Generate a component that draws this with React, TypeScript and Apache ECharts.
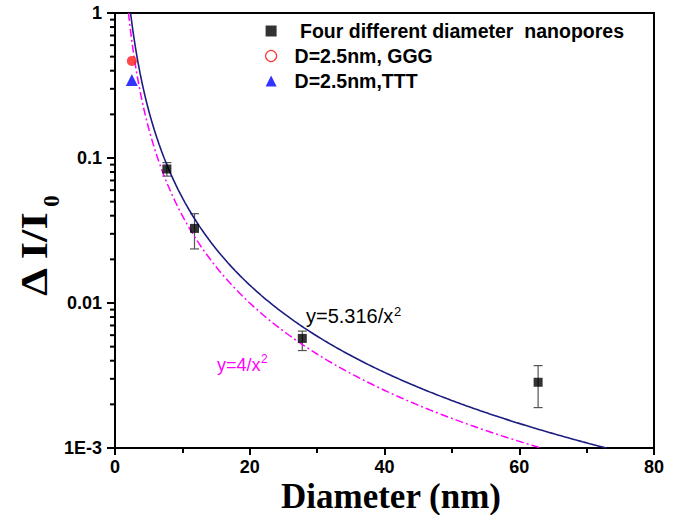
import React, { useEffect, useRef } from "react";
import * as echarts from "echarts";

// Measured nanopores (x = diameter nm, y = ΔI/I0, error bar low/high)
const poreDiameters = [7.7, 11.8, 27.8, 62.8];
const poreValues = [0.084, 0.0327, 0.0057, 0.00284];
const poreErrLow = [0.075, 0.0236, 0.0047, 0.0019];
const poreErrHigh = [0.093, 0.0413, 0.0064, 0.0037];

const gggX = [2.5];
const gggY = [0.467];
const tttX = [2.5];
const tttY = [0.345];

// Fit coefficients written on the chart: y = a / x^2
const fitA = 5.316;
const fitB = 4;

const yMinorTicks = [
  0.002, 0.003, 0.004, 0.005, 0.006, 0.007, 0.008, 0.009,
  0.02, 0.03, 0.04, 0.05, 0.06, 0.07, 0.08, 0.09,
  0.2, 0.3, 0.4, 0.5, 0.6, 0.7, 0.8, 0.9,
];

const S1 = " Four different diameter  nanopores";
const S2 = "D=2.5nm, GGG";
const S3 = "D=2.5nm,TTT";

function fitCurve(a: number): number[][] {
  const pts: number[][] = [];
  const x0 = Math.sqrt(a / 1);
  const x1 = Math.sqrt(a / 0.001);
  const n = 200;
  for (let i = 0; i <= n; i++) {
    const x = x0 + ((x1 - x0) * i) / n;
    pts.push([x, a / (x * x)]);
  }
  return pts;
}

export default function App() {
  const ref = useRef<HTMLDivElement>(null);
  useEffect(() => {
    if (!ref.current) return;
    const chart = echarts.init(ref.current, undefined, { renderer: "svg" });
    const sans = "Arial, 'Liberation Sans', sans-serif";
    const serif = "'Times New Roman', 'Liberation Serif', serif";
    chart.setOption({
      animation: false,
      backgroundColor: "#fff",
      grid: {
        left: 115,
        right: 30,
        top: 13,
        bottom: 67,
        show: true,
        borderColor: "#000",
        borderWidth: 2,
        backgroundColor: "transparent",
      },
      legend: {
        orient: "vertical",
        left: 260,
        top: 16,
        itemWidth: 11,
        itemHeight: 11,
        itemGap: 5,
        textStyle: {
          fontFamily: sans,
          fontWeight: "bold",
          fontSize: 19.5,
          color: "#000",
          lineHeight: 20,
          padding: [0, 0, 0, 13],
        },
        data: [
          { name: S1, icon: "rect" },
          {
            name: S2,
            icon: "circle",
            itemStyle: { color: "#fff", borderColor: "#ff0000", borderWidth: 1.2 },
          },
          { name: S3, icon: "triangle" },
        ],
      },
      xAxis: {
        type: "value",
        min: 0,
        max: 80,
        interval: 20,
        splitLine: { show: false },
        axisLine: { show: true, onZero: false, lineStyle: { color: "#000", width: 2 } },
        axisTick: { show: true, inside: false, length: 7, lineStyle: { color: "#000", width: 2 } },
        minorTick: { show: true, splitNumber: 2, length: 5, lineStyle: { color: "#000", width: 2 } },
        axisLabel: {
          margin: 10,
          fontFamily: sans,
          fontWeight: "bold",
          fontSize: 18,
          color: "#000",
        },
      },
      yAxis: {
        type: "log",
        logBase: 10,
        min: 0.001,
        max: 1,
        splitLine: { show: false },
        axisLine: { show: true, onZero: false, lineStyle: { color: "#000", width: 2 } },
        axisTick: { show: true, inside: false, length: 8, lineStyle: { color: "#000", width: 2 } },
        axisLabel: {
          margin: 13,
          fontFamily: sans,
          fontWeight: "bold",
          fontSize: 18,
          color: "#000",
          formatter: (v: number) => {
            const e = Math.round(Math.log10(v));
            if (e === 0) return "1";
            if (e === -1) return "0.1";
            if (e === -2) return "0.01";
            return "1E-3";
          },
        },
      },
      graphic: [
        {
          type: "text",
          x: 391,
          y: 496,
          style: {
            text: "Diameter (nm)",
            fontFamily: serif,
            fontWeight: "bold",
            fontSize: 35,
            fill: "#000",
            align: "center",
            verticalAlign: "middle",
          },
        },
        {
          type: "text",
          x: 35,
          y: 254,
          rotation: Math.PI / 2,
          scaleX: 1.2,
          style: {
            text: "Δ I/I",
            fontFamily: serif,
            fontWeight: "bold",
            fontSize: 37,
            fill: "#000",
            align: "center",
            verticalAlign: "middle",
          },
        },
        {
          type: "text",
          x: 51,
          y: 201,
          rotation: Math.PI / 2,
          style: {
            text: "0",
            fontFamily: serif,
            fontWeight: "bold",
            fontSize: 23,
            fill: "#000",
            align: "center",
            verticalAlign: "middle",
          },
        },
        {
          type: "text",
          x: 306,
          y: 316,
          style: {
            text: "y=5.316/x",
            fontFamily: sans,
            fontSize: 20,
            fill: "#000",
            align: "left",
            verticalAlign: "middle",
          },
        },
        {
          type: "text",
          x: 394,
          y: 311,
          style: {
            text: "2",
            fontFamily: sans,
            fontSize: 13,
            fill: "#000",
            align: "left",
            verticalAlign: "middle",
          },
        },
        {
          type: "text",
          x: 217,
          y: 364.5,
          style: {
            text: "y=4/x",
            fontFamily: sans,
            fontSize: 18,
            fill: "#ff00ff",
            align: "left",
            verticalAlign: "middle",
          },
        },
        {
          type: "text",
          x: 261,
          y: 359,
          style: {
            text: "2",
            fontFamily: sans,
            fontSize: 12,
            fill: "#ff00ff",
            align: "left",
            verticalAlign: "middle",
          },
        },
      ],
      series: [
        {
          name: "yMinor",
          type: "custom",
          silent: true,
          clip: false,
          data: yMinorTicks.map((v) => [0, v]),
          renderItem: (_p: any, api: any) => {
            const pt = api.coord([0, api.value(1)]);
            return {
              type: "line",
              shape: { x1: pt[0] - 5, y1: pt[1], x2: pt[0], y2: pt[1] },
              style: { stroke: "#000", lineWidth: 2 },
            };
          },
        },
        {
          name: "fitA",
          type: "line",
          data: fitCurve(fitA),
          showSymbol: false,
          symbol: "none",
          smooth: false,
          clip: true,
          silent: true,
          lineStyle: { color: "#1c1c80", width: 1.6 },
        },
        {
          name: "fitB",
          type: "line",
          data: fitCurve(fitB),
          showSymbol: false,
          symbol: "none",
          clip: true,
          silent: true,
          lineStyle: { color: "#ff00ff", width: 1.5, type: [8, 3, 2, 3] },
        },
        {
          name: "errbars",
          type: "custom",
          silent: true,
          data: poreDiameters.map((x, i) => [x, poreErrLow[i], poreErrHigh[i]]),
          encode: { x: 0, y: [1, 2] },
          renderItem: (_p: any, api: any) => {
            const lo = api.coord([api.value(0), api.value(1)]);
            const hi = api.coord([api.value(0), api.value(2)]);
            const w = 4.5;
            const st = { stroke: "#555", lineWidth: 1.2 };
            return {
              type: "group",
              children: [
                { type: "line", shape: { x1: lo[0], y1: lo[1], x2: hi[0], y2: hi[1] }, style: st },
                { type: "line", shape: { x1: lo[0] - w, y1: lo[1], x2: lo[0] + w, y2: lo[1] }, style: st },
                { type: "line", shape: { x1: hi[0] - w, y1: hi[1], x2: hi[0] + w, y2: hi[1] }, style: st },
              ],
            };
          },
        },
        {
          name: S1,
          type: "scatter",
          symbol: "rect",
          symbolSize: 9,
          itemStyle: { color: "#000" },
          data: poreDiameters.map((x, i) => [x, poreValues[i]]),
          z: 5,
        },
        {
          name: S2,
          type: "scatter",
          symbol: "circle",
          symbolSize: 10,
          itemStyle: { color: "#ff1a1a" },
          data: gggX.map((x, i) => [x, gggY[i]]),
          z: 5,
        },
        {
          name: S3,
          type: "scatter",
          symbol: "triangle",
          symbolSize: 12,
          itemStyle: { color: "#0000ff" },
          data: tttX.map((x, i) => [x, tttY[i]]),
          z: 5,
        },
      ],
    });
    return () => chart.dispose();
  }, []);
  return <div ref={ref} style={{ width: 684, height: 515, position: "absolute", left: 0, top: 0 }} />;
}
